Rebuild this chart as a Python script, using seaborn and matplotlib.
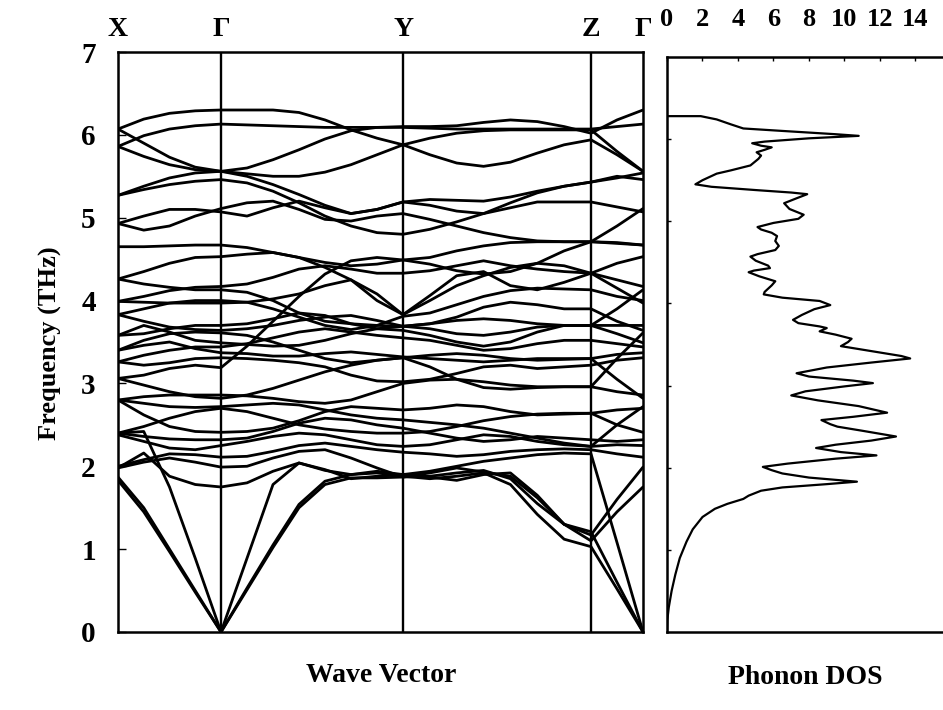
import numpy as np
import pandas as pd
import matplotlib
matplotlib.use("Agg")
import matplotlib.pyplot as plt
import seaborn as sns

# ---------------- data ----------------
# high-symmetry path X - Γ - Y - Z - Γ (path length units) and sampling per segment
sym_labels = ["X", "Γ", "Y", "Z", "Γ"]
sym_k = [0, 103, 285, 473, 525]
seg_steps = [4, 7, 7, 2]

# phonon branches (THz) sampled along the path
band_ta1 = [1.83, 1.45, 0.97, 0.48, 0.0, 0.51, 1.02, 1.50, 1.78, 1.86, 1.86, 1.87, 1.88, 1.92, 1.95, 1.85, 1.55, 1.30, 1.21, 0.60, 0.0]
band_ta2 = [1.87, 1.50, 1.00, 0.50, 0.0, 0.53, 1.05, 1.54, 1.82, 1.90, 1.92, 1.88, 1.85, 1.88, 1.92, 1.78, 1.42, 1.12, 1.03, 0.52, 0.0]
band_la = [2.40, 2.42, 1.75, 0.89, 0.0, 0.89, 1.78, 2.04, 1.95, 1.90, 1.94, 1.90, 1.94, 2.00, 2.06, 2.10, 2.14, 2.16, 2.15, 1.08, 0.0]
band_o0 = [1.98, 2.16, 1.88, 1.78, 1.75, 1.80, 1.94, 2.04, 1.96, 1.85, 1.88, 1.90, 1.87, 1.83, 1.90, 1.92, 1.65, 1.30, 1.10, 1.45, 1.75]
band_o1 = [1.98, 2.05, 2.10, 2.05, 1.99, 2.00, 2.10, 2.18, 2.20, 2.10, 1.98, 1.87, 1.92, 1.98, 1.93, 1.88, 1.62, 1.30, 1.17, 1.60, 1.99]
band_m1 = [2.00, 2.08, 2.15, 2.14, 2.11, 2.12, 2.18, 2.25, 2.28, 2.24, 2.20, 2.17, 2.15, 2.12, 2.14, 2.18, 2.20, 2.21, 2.20, 2.15, 2.11]
band_m2 = [2.38, 2.30, 2.22, 2.20, 2.25, 2.30, 2.36, 2.40, 2.38, 2.32, 2.26, 2.24, 2.26, 2.32, 2.38, 2.36, 2.30, 2.26, 2.24, 2.26, 2.25]
band_m3 = [2.40, 2.36, 2.33, 2.32, 2.32, 2.34, 2.42, 2.52, 2.58, 2.56, 2.50, 2.46, 2.40, 2.34, 2.30, 2.32, 2.36, 2.34, 2.32, 2.30, 2.32]
band_m4 = [2.80, 2.62, 2.48, 2.42, 2.41, 2.42, 2.46, 2.55, 2.66, 2.72, 2.70, 2.68, 2.70, 2.74, 2.72, 2.66, 2.62, 2.63, 2.64, 2.50, 2.41]
band_m5 = [2.40, 2.48, 2.58, 2.66, 2.70, 2.66, 2.58, 2.50, 2.45, 2.42, 2.40, 2.40, 2.42, 2.48, 2.55, 2.60, 2.63, 2.64, 2.64, 2.68, 2.70]
band_m6 = [2.80, 2.76, 2.72, 2.71, 2.72, 2.74, 2.76, 2.74, 2.68, 2.62, 2.58, 2.56, 2.53, 2.50, 2.46, 2.40, 2.34, 2.28, 2.24, 2.50, 2.72]
band_m7 = [3.06, 2.98, 2.90, 2.84, 2.82, 2.86, 2.94, 3.04, 3.14, 3.22, 3.28, 3.31, 3.34, 3.36, 3.34, 3.30, 3.28, 3.29, 3.30, 3.05, 2.82]
band_m8 = [2.80, 2.84, 2.86, 2.86, 2.86, 2.85, 2.82, 2.78, 2.76, 2.80, 2.90, 3.00, 3.04, 3.05, 3.02, 2.98, 2.96, 2.96, 2.96, 2.90, 2.86]
band_m9 = [3.06, 3.10, 3.18, 3.22, 3.19, 3.45, 3.75, 4.05, 4.32, 4.48, 4.52, 4.49, 4.52, 4.60, 4.66, 4.70, 4.71, 4.71, 4.71, 4.70, 4.67]
band_m10 = [3.26, 3.22, 3.25, 3.30, 3.31, 3.30, 3.28, 3.25, 3.20, 3.10, 3.03, 3.02, 3.05, 3.12, 3.20, 3.22, 3.18, 3.20, 3.22, 3.28, 3.31]
band_m11 = [3.40, 3.46, 3.50, 3.42, 3.37, 3.36, 3.33, 3.33, 3.36, 3.38, 3.35, 3.32, 3.30, 3.28, 3.26, 3.28, 3.30, 3.30, 3.30, 3.35, 3.37]
band_m12 = [3.26, 3.34, 3.40, 3.44, 3.44, 3.48, 3.55, 3.62, 3.66, 3.62, 3.58, 3.55, 3.52, 3.46, 3.40, 3.42, 3.48, 3.52, 3.52, 3.48, 3.44]
band_m13 = [3.58, 3.70, 3.62, 3.52, 3.49, 3.47, 3.45, 3.46, 3.52, 3.60, 3.66, 3.69, 3.66, 3.60, 3.58, 3.62, 3.68, 3.70, 3.70, 3.60, 3.49]
band_m14 = [3.40, 3.52, 3.60, 3.62, 3.61, 3.58, 3.50, 3.40, 3.30, 3.25, 3.28, 3.31, 3.20, 3.05, 2.95, 2.93, 2.95, 2.96, 2.96, 3.30, 3.61]
band_m15 = [3.83, 3.75, 3.68, 3.65, 3.64, 3.66, 3.70, 3.76, 3.80, 3.82, 3.76, 3.69, 3.72, 3.80, 3.92, 3.98, 3.95, 3.90, 3.90, 3.75, 3.64]
band_m16 = [3.58, 3.60, 3.66, 3.70, 3.70, 3.72, 3.78, 3.85, 3.82, 3.72, 3.66, 3.64, 3.58, 3.50, 3.45, 3.50, 3.62, 3.70, 3.70, 3.70, 3.70]
band_m17 = [3.99, 3.98, 3.97, 3.97, 3.97, 3.98, 4.02, 4.08, 4.18, 4.25, 4.08, 3.83, 4.06, 4.30, 4.35, 4.18, 4.13, 4.22, 4.33, 4.15, 3.97]
band_m18 = [3.83, 3.90, 3.97, 4.00, 4.00, 3.98, 3.90, 3.80, 3.70, 3.65, 3.70, 3.81, 3.85, 3.95, 4.05, 4.12, 4.15, 4.14, 4.13, 4.05, 4.00]
band_m19 = [4.26, 4.20, 4.16, 4.13, 4.13, 4.10, 4.00, 3.85, 3.75, 3.72, 3.70, 3.69, 3.72, 3.76, 3.78, 3.76, 3.72, 3.70, 3.70, 3.90, 4.13]
band_m20 = [3.99, 4.05, 4.12, 4.16, 4.17, 4.20, 4.28, 4.38, 4.42, 4.38, 4.33, 4.33, 4.36, 4.42, 4.48, 4.42, 4.38, 4.35, 4.33, 4.25, 4.17]
band_m21 = [4.26, 4.35, 4.45, 4.52, 4.53, 4.56, 4.58, 4.52, 4.40, 4.25, 4.00, 3.83, 4.00, 4.18, 4.30, 4.40, 4.45, 4.42, 4.33, 4.45, 4.53]
band_m22 = [4.65, 4.65, 4.66, 4.67, 4.67, 4.64, 4.58, 4.52, 4.46, 4.42, 4.44, 4.49, 4.44, 4.36, 4.32, 4.35, 4.45, 4.60, 4.71, 4.69, 4.67]
band_m23 = [4.93, 5.02, 5.10, 5.10, 5.07, 5.02, 5.12, 5.20, 5.12, 5.05, 5.10, 5.19, 5.15, 5.08, 5.05, 5.12, 5.19, 5.19, 5.19, 5.13, 5.07]
band_m24 = [4.93, 4.85, 4.90, 5.02, 5.11, 5.18, 5.20, 5.10, 4.98, 4.96, 5.02, 5.05, 4.98, 4.90, 4.82, 4.76, 4.72, 4.71, 4.71, 4.90, 5.11]
band_m25 = [5.27, 5.34, 5.40, 5.44, 5.46, 5.42, 5.32, 5.18, 5.02, 4.90, 4.82, 4.80, 4.86, 4.95, 5.05, 5.18, 5.30, 5.38, 5.43, 5.50, 5.46]
band_m26 = [5.27, 5.38, 5.48, 5.54, 5.56, 5.50, 5.40, 5.28, 5.15, 5.05, 5.10, 5.19, 5.22, 5.21, 5.20, 5.25, 5.32, 5.38, 5.43, 5.48, 5.54]
band_t1 = [6.07, 6.19, 6.26, 6.29, 6.30, 6.30, 6.30, 6.27, 6.18, 6.06, 5.96, 5.88, 5.76, 5.66, 5.62, 5.67, 5.78, 5.88, 5.94, 5.76, 5.56]
band_t2 = [5.86, 5.99, 6.07, 6.11, 6.13, 6.12, 6.11, 6.10, 6.09, 6.09, 6.09, 6.09, 6.08, 6.07, 6.07, 6.07, 6.07, 6.07, 6.07, 6.10, 6.13]
band_t3 = [6.07, 5.90, 5.73, 5.61, 5.56, 5.60, 5.70, 5.82, 5.95, 6.05, 6.09, 6.10, 6.10, 6.11, 6.15, 6.18, 6.16, 6.10, 6.02, 6.18, 6.30]
band_t4 = [5.86, 5.74, 5.64, 5.58, 5.56, 5.53, 5.50, 5.50, 5.55, 5.64, 5.76, 5.88, 5.96, 6.02, 6.05, 6.06, 6.06, 6.06, 6.06, 5.80, 5.56]

bands = [band_ta1, band_ta2, band_la, band_o0, band_o1,
         band_m1, band_m2, band_m3, band_m4, band_m5, band_m6, band_m7,
         band_m8, band_m9, band_m10, band_m11, band_m12, band_m13, band_m14,
         band_m15, band_m16, band_m17, band_m18, band_m19, band_m20,
         band_m21, band_m22, band_m23, band_m24, band_m25, band_m26,
         band_t1, band_t2, band_t3, band_t4]

# phonon density of states, traced from high to low frequency
dos_freq = [6.28, 6.28, 6.24, 6.18, 6.13, 6.10, 6.06, 6.04, 6.01, 5.97, 5.95, 5.92, 5.90,
            5.87, 5.84, 5.80, 5.76, 5.68, 5.62, 5.58, 5.50, 5.45, 5.42, 5.38, 5.35, 5.33,
            5.28, 5.22, 5.15, 5.08, 5.03, 4.98, 4.93, 4.90, 4.86, 4.82, 4.76, 4.70, 4.65,
            4.60, 4.57, 4.52, 4.46, 4.43, 4.40, 4.38, 4.33, 4.27, 4.22, 4.14, 4.11, 4.07,
            4.03, 3.98, 3.93, 3.86, 3.80, 3.76, 3.72, 3.70, 3.66, 3.62, 3.57, 3.53, 3.48,
            3.42, 3.36, 3.33, 3.28, 3.22, 3.15, 3.11, 3.06, 3.03, 2.99, 2.93, 2.88, 2.82,
            2.75, 2.67, 2.62, 2.58, 2.53, 2.50, 2.45, 2.38, 2.33, 2.28, 2.24, 2.19, 2.15,
            2.11, 2.05, 2.01, 1.97, 1.93, 1.88, 1.83, 1.80, 1.76, 1.72, 1.66, 1.62, 1.56,
            1.50, 1.40, 1.25, 1.10, 0.90, 0.70, 0.50, 0.30, 0.15, 0.0]
dos_value = [0.0, 1.9, 2.8, 3.6, 4.3, 6.5, 9.5, 10.8, 8.0, 5.5, 4.8, 5.3, 5.9,
             5.5, 5.05, 5.3, 5.15, 4.7, 3.6, 2.8, 2.0, 1.6, 2.5, 5.0, 7.0, 7.9,
             7.3, 6.6, 6.9, 7.7, 7.4, 6.0, 5.1, 5.3, 5.9, 6.2, 6.1, 6.3, 6.1,
             5.1, 4.7, 5.0, 5.7, 5.8, 4.9, 4.6, 5.2, 6.1, 5.9, 5.5, 5.45, 6.5,
             8.6, 9.2, 8.3, 7.6, 7.1, 7.4, 8.6, 9.0, 8.6, 9.5, 10.4, 10.2, 9.8,
             11.5, 13.2, 13.7, 11.5, 9.0, 7.3, 8.0, 10.5, 11.6, 10.0, 7.8, 7.0, 8.5,
             10.8, 12.4, 10.5, 8.7, 9.2, 9.6, 11.0, 12.9, 11.5, 9.5, 8.4, 9.8, 11.8,
             9.5, 6.8, 5.4, 5.9, 6.5, 8.0, 10.7, 9.0, 6.5, 5.3, 4.6, 4.3, 3.4,
             2.7, 2.0, 1.45, 1.1, 0.72, 0.47, 0.26, 0.10, 0.02, 0.0]

dos_ticks = [0, 2, 4, 6, 8, 10, 12, 14]
freq_ticks = [0, 1, 2, 3, 4, 5, 6, 7]

# ---------------- tables ----------------
k_path = [float(sym_k[0])]
for a, b, n in zip(sym_k[:-1], sym_k[1:], seg_steps):
    k_path.extend(np.linspace(a, b, n + 1)[1:].tolist())

band_df = pd.DataFrame({
    "k": np.tile(k_path, len(bands)),
    "freq": np.concatenate([np.asarray(b, float) for b in bands]),
    "band": np.repeat(np.arange(len(bands)), len(k_path)),
})
dos_df = pd.DataFrame({"dos": dos_value, "freq": dos_freq})

# ---------------- style ----------------
sns.set_theme(style="white")
plt.rcParams["font.family"] = ["Liberation Serif", "DejaVu Serif"]
plt.rcParams["font.weight"] = "bold"
plt.rcParams["text.color"] = "black"
plt.rcParams["xtick.color"] = "black"
plt.rcParams["ytick.color"] = "black"
plt.rcParams["axes.linewidth"] = 1.8
plt.rcParams["axes.edgecolor"] = "black"
plt.rcParams["lines.solid_joinstyle"] = "round"

W, H = 943, 710
fig = plt.figure(figsize=(W / 100, H / 100), dpi=100)
fig.patch.set_facecolor("white")

ax = fig.add_axes([118 / W, 78 / H, 525 / W, 580 / H])
ax2 = fig.add_axes([667 / W, 78 / H, 276 / W, 575 / H])

# ---------------- dispersion panel ----------------
sns.lineplot(data=band_df, x="k", y="freq", units="band", estimator=None,
             color="black", linewidth=2.0, ax=ax, legend=False)
for s in sym_k[1:-1]:
    ax.axvline(s, color="black", linewidth=1.7)
ax.set_xlim(sym_k[0], sym_k[-1])
ax.set_ylim(0, 7)
ax.set_xticks(sym_k)
ax.set_xticklabels(sym_labels)
ax.xaxis.set_ticks_position("top")
ax.tick_params(axis="x", length=0, pad=7, labelsize=20, labelcolor="black")
ax.set_yticks(freq_ticks)
ax.tick_params(axis="y", left=True, direction="in", length=6, width=1.0,
               pad=16, labelsize=21, labelcolor="black")
ax.set_xlabel("")
ax.set_ylabel("")
for sp in ax.spines.values():
    sp.set_visible(True)
    sp.set_color("black")
    sp.set_linewidth(1.8)

# ---------------- DOS panel ----------------
sns.lineplot(data=dos_df, x="dos", y="freq", sort=False, estimator=None,
             color="black", linewidth=1.6, ax=ax2)
ax2.set_xlim(0, 15.55)
ax2.set_ylim(0, 7)
ax2.xaxis.set_ticks_position("top")
ax2.set_xticks(dos_ticks)
ax2.tick_params(axis="x", top=True, direction="in", length=3, width=1.0,
                pad=19, labelsize=19, labelcolor="black")
ax2.set_yticks(freq_ticks[1:-1])
ax2.set_yticklabels([])
ax2.tick_params(axis="y", left=True, direction="in", length=3, width=1.0)
ax2.set_xlabel("")
ax2.set_ylabel("")
ax2.spines["right"].set_visible(False)
for name in ["left", "top", "bottom"]:
    ax2.spines[name].set_color("black")
    ax2.spines[name].set_linewidth(1.8)

# ---------------- titles ----------------
fig.text(50 / W, 1 - 343 / H, "Frequency (THz)", rotation=90, ha="center",
         va="center", fontsize=19, fontweight="bold")
fig.text(381 / W, 1 - 676 / H, "Wave Vector", ha="center", va="center",
         fontsize=20, fontweight="bold")
fig.text(805 / W, 1 - 678 / H, "Phonon DOS", ha="center", va="center",
         fontsize=20, fontweight="bold")

fig.savefig("out.png", dpi=100, facecolor="white")
